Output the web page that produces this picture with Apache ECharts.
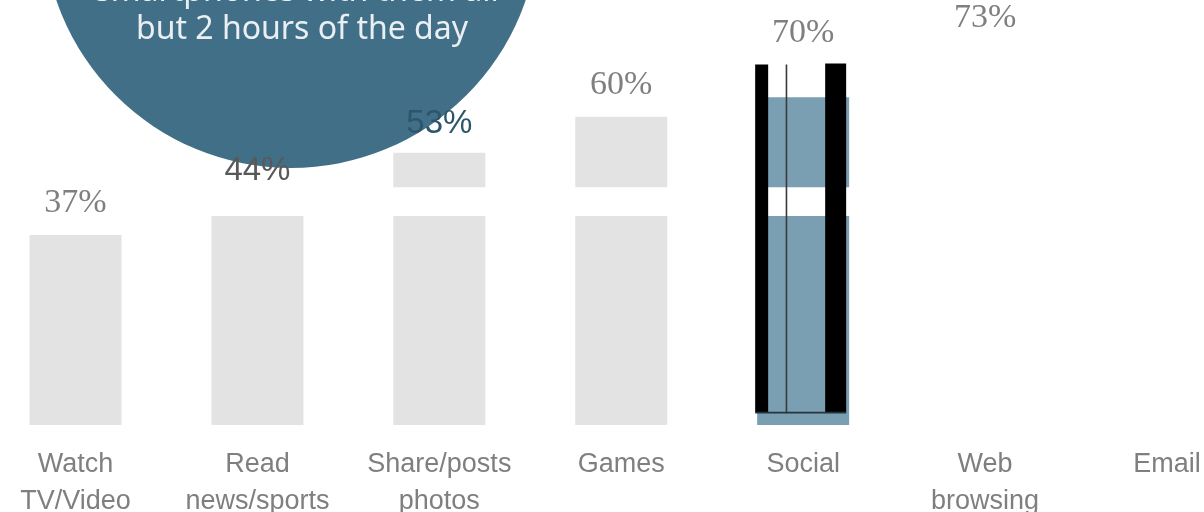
<!DOCTYPE html>
<html><head><meta charset="utf-8">
<script src="https://cdn.jsdelivr.net/npm/echarts@6/dist/echarts.min.js"></script>
<style>html,body{margin:0;padding:0;background:#fff}#c{width:1204px;height:512px}</style>
</head><body><div id="c"></div>
<script>
const categories = ['Watch\nTV/Video', 'Read\nnews/sports', 'Share/posts\nphotos', 'Games', 'Social', 'Web\nbrowsing', 'Email'];
const values = [37, 44, 53, 60, 70, 73, 79];
const labelTexts = ['37%', '44%', '53%', '60%', '70%', '73%', '79%'];
const calloutLines = ['smartphones with them all', 'but 2 hours of the day'];

const gray = '#e3e3e3', blue = '#7a9fb3', blank = '#ffffff';
const barColors = [gray, gray, gray, gray, blue, blank, blank];

const serifLabel = { fontFamily: 'Liberation Serif', fontSize: 34, color: '#7f7f7f', distance: 15 };
const sansLabel = { fontFamily: 'Liberation Sans', fontSize: 33, color: '#595959', distance: 12 };
const labelStyles = [serifLabel, sansLabel, Object.assign({}, sansLabel, { color: '#2d566c' }), serifLabel, serifLabel, serifLabel, serifLabel];

const chart = echarts.init(document.getElementById('c'), null, { renderer: 'canvas' });
const option = {
  animation: false,
  backgroundColor: '#ffffff',
  grid: { left: 75.5, right: 37, top: 14, bottom: 87, containLabel: false, outerBoundsMode: 'none' },
  xAxis: {
    type: 'category', data: categories, boundaryGap: false,
    axisLine: { show: false }, axisTick: { show: false }, splitLine: { show: false },
    axisLabel: { interval: 0, color: '#7f7f7f', fontFamily: 'Liberation Sans', fontSize: 27, lineHeight: 37, margin: 21, hideOverlap: false }
  },
  yAxis: { type: 'value', min: 0, max: 80, show: false },
  series: [
    {
      type: 'bar', z: 2, barWidth: 92, clip: false,
      data: values.map((v, i) => ({ value: v, itemStyle: { color: barColors[i] } }))
    },
    {
      type: 'bar', z: 5, barWidth: 92, barGap: '-100%', clip: false,
      itemStyle: { color: 'rgba(0,0,0,0)' },
      data: values.map((v, i) => ({
        value: v,
        label: Object.assign({ show: true, position: 'top', formatter: labelTexts[i] }, labelStyles[i])
      }))
    }
  ]
};
chart.setOption(option);

const px = (ci, v) => chart.convertToPixel({ gridIndex: 0 }, [ci, v]);
const bw = 92;
const rBand = px(1, 0)[0] - bw / 2 - 6, sBand = px(4, 0)[0] + bw / 2 + 6;
const bandTop = px(1, 46.3)[1], bandBot = px(1, 40.7)[1];
const c = px(4, 0)[0];
const yTop = px(4, 70)[1], yCut = px(4, 63.8)[1], yBot = px(4, 2.5)[1];

chart.setOption({
  graphic: [
    { type: 'circle', z: 3, shape: { cx: 291, cy: -80, r: 248 }, style: { fill: '#416f87' } },
    { type: 'text', z: 3, z2: 10, x: 297, y: -8, style: { text: calloutLines[0], font: '32px "Noto Sans"', fill: '#e9eff3', align: 'center', verticalAlign: 'middle' } },
    { type: 'text', z: 3, z2: 10, x: 302, y: 30, style: { text: calloutLines[1], font: '32px "Noto Sans"', fill: '#e9eff3', align: 'center', verticalAlign: 'middle' } },
    { type: 'rect', z: 3, shape: { x: rBand, y: bandTop, width: sBand - rBand, height: bandBot - bandTop }, style: { fill: '#ffffff' } },
    { type: 'rect', z: 3, shape: { x: c - 47, y: yTop - 3, width: 94, height: yCut - yTop + 3 }, style: { fill: '#ffffff' } },
    { type: 'rect', z: 4, shape: { x: c - 48, y: yTop - 1, width: 13, height: yBot - yTop + 1 }, style: { fill: '#000000' } },
    { type: 'rect', z: 4, shape: { x: c + 22, y: yTop - 2, width: 21, height: yBot - yTop + 2 }, style: { fill: '#000000' } },
    { type: 'rect', z: 4, shape: { x: c - 17.5, y: yTop - 1, width: 1.6, height: yBot - yTop + 2 }, style: { fill: '#3a3a3a' } },
    { type: 'rect', z: 4, shape: { x: c - 48, y: yBot - 0.5, width: 91, height: 1.8 }, style: { fill: '#26343c' } }
  ]
});
</script>
</body></html>
